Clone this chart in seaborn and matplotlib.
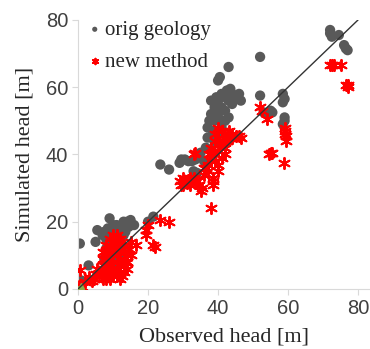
import pandas as pd
import matplotlib
matplotlib.use('Agg')
import matplotlib.pyplot as plt
import seaborn as sns

# orig geology (observed, simulated)
orig_obs = [0.5, 1, 3, 5, 5.5, 7, 7.5, 8, 8.5, 9, 9, 9.5, 10, 10, 10.5, 11, 11, 11.5, 12, 12,
            12.5, 13, 13, 13.5, 14, 14.5, 15, 16, 8, 9, 10, 11, 12, 13, 8.5, 9.5, 10.5, 11.5,
            12.5, 7.5, 8,
            20, 21.5, 23.5, 26, 29, 29.5, 30.5, 31.5, 32.5, 33.5, 34.5, 35, 33, 34,
            36, 36.5, 37, 37, 37.5, 38, 38, 38.5, 39, 39, 39.5, 40, 40, 40, 40.5, 41, 41, 41.5,
            42, 42, 42.5, 43, 43, 43.5, 44, 44, 45, 46, 46.5, 39, 40, 41, 42, 43, 38,
            52, 52, 53, 54, 55, 55.5, 58.5, 59, 58.5, 59, 59, 58.5,
            72, 72, 72.5, 74.5, 76, 76.5, 77]
orig_sim = [13.5, 2.5, 7, 14, 17.5, 16, 17, 15, 18, 21, 14, 17, 19, 12, 18, 19, 15, 17, 18, 14,
            19, 20, 16, 17, 20, 18.5, 20.5, 19, 12, 10, 9, 8, 8, 10, 10, 12, 11, 13,
            12, 9, 8,
            20, 21.5, 37, 35.5, 37.5, 38.5, 38.5, 38, 38, 38.5, 39.5, 40.5, 35, 34.5,
            38, 42, 45, 48, 50, 52, 56, 47, 54, 50, 57, 52, 56, 62, 63, 58, 54, 50,
            57, 53, 59, 56, 66, 59.5, 58, 55, 57, 58, 56, 44, 46, 48, 50, 51, 45,
            69, 57.5, 52.5, 52, 53, 52.5, 58, 56.5, 55.5, 51, 50, 49,
            77, 76, 75, 75.5, 72.5, 71.5, 71]

# new method (observed, simulated)
new_obs = [0.5, 1, 0.3, 2, 3, 4, 4.5, 5, 6, 6.5, 5.5,
           7, 7, 7, 7, 7, 8, 8, 8, 8, 8, 8, 9, 9, 9, 9, 9, 9, 9,
           10, 10, 10, 10, 10, 10, 10, 11, 11, 11, 11, 11, 11, 11,
           12, 12, 12, 12, 12, 12, 12, 13, 13, 13, 13, 13, 14, 14, 14,
           7.5, 8.5, 9.5, 10.5, 11.5, 12.5, 13.5, 8.5, 9.5, 10.5, 11.5, 12.5,
           14, 15, 16.5, 19.5, 19.5, 20, 21.5, 22, 23.5, 26, 15, 14.5,
           29, 29.5, 30, 30.5, 31, 31.5, 32, 32.5, 33, 33.5, 34, 34.5, 30, 32,
           33.5, 33, 35, 35.5, 36, 36, 37, 37, 38, 38.5, 38.5, 38.5, 38, 38,
           38, 39, 39, 40, 40, 40, 41, 41, 41, 42, 42, 42, 43, 43, 44, 44, 45,
           46, 46.5, 39, 39, 40, 37.5, 36.5, 40, 41.5, 42.5, 40.5,
           52, 52.5, 54, 55, 54.5, 55.5, 59, 59, 59.5, 59.5, 59, 58.7,
           72, 72.5, 73, 75, 76.5, 77, 77]
new_sim = [5.5, 0.5, 1, 2, 3.5, 2.5, 3, 4.5, 4, 5, 6,
           3, 5, 7, 9, 11, 3, 5, 7, 9, 11, 13, 3, 5, 7, 9, 11, 13, 15,
           4, 6, 8, 10, 12, 14, 16, 4, 6, 8, 10, 12, 14, 16,
           3, 5, 7, 9, 11, 13, 15, 5, 7, 9, 11, 13, 6, 8, 10,
           6, 4, 6, 5, 7, 4, 8, 10, 12, 14, 15, 12,
           8, 14, 13, 17.5, 16, 19, 13, 12.5, 20.5, 20, 10, 12,
           32, 31, 33, 32, 31.5, 32.5, 31, 32, 33, 31.5, 32, 31, 31, 33,
           40.5, 40, 29, 30, 34, 36, 35, 37, 24, 31, 32, 33, 38, 40,
           42, 44, 46, 48, 45, 41, 47, 43, 39, 46, 42, 40, 47, 45, 46, 45, 45.5,
           45.5, 45, 38, 40, 37, 40, 36, 35, 44, 44, 43,
           54, 53, 50.5, 40.5, 40, 40.5, 48, 47, 45.5, 44, 46, 37.5,
           66.5, 66.5, 66.5, 66.5, 60.5, 60.5, 60]

orig = pd.DataFrame({'obs': orig_obs, 'sim': orig_sim})
new = pd.DataFrame({'obs': new_obs, 'sim': new_sim})

sns.set_style('white')
plt.rcParams['font.family'] = ['Liberation Sans', 'DejaVu Sans']

fig = plt.figure(figsize=(3.70, 3.49), dpi=100)
ax = fig.add_axes([0.211, 0.172, 0.789, 0.771])

sns.scatterplot(data=orig, x='obs', y='sim', ax=ax, color='#595959', s=55,
                edgecolor='none', label='orig geology', zorder=2)
sns.scatterplot(data=new, x='obs', y='sim', ax=ax, color='#ff0000', s=65,
                marker=(6, 2, 0), linewidth=1.4, label='new method', zorder=3)
ax.plot([0, 0.8], [0, 0.8], color='#8cb04a', marker='^', ms=4, ls='none', zorder=4)
ax.plot([0, 80], [0, 80], color='#333333', lw=1.0, zorder=4)

ax.set_xlim(0, 83.4)
ax.set_ylim(0, 80)
ax.set_xticks([0, 20, 40, 60, 80])
ax.set_yticks([0, 20, 40, 60, 80])
ax.tick_params(axis='both', labelsize=14.5, labelcolor='#404040', color='#d9d9d9',
               length=4, width=0.8, direction='out', bottom=True, left=True, pad=3)
for side in ['top', 'right']:
    ax.spines[side].set_visible(False)
for side in ['left', 'bottom']:
    ax.spines[side].set_color('#d9d9d9')
    ax.spines[side].set_linewidth(0.8)

ax.set_xlabel('Observed head [m]', family='Liberation Serif', fontsize=16, color='#262626',
              labelpad=7)
ax.set_ylabel('Simulated head [m]', family='Liberation Serif', fontsize=16, color='#262626',
              labelpad=8)

leg = ax.legend(loc='upper left', bbox_to_anchor=(0.0, 1.03), frameon=False,
                prop={'family': 'Liberation Serif', 'size': 15},
                handletextpad=0.1, handlelength=0.8, borderaxespad=0.0, labelspacing=0.6,
                markerscale=0.5)

fig.savefig('out.png', dpi=100)
